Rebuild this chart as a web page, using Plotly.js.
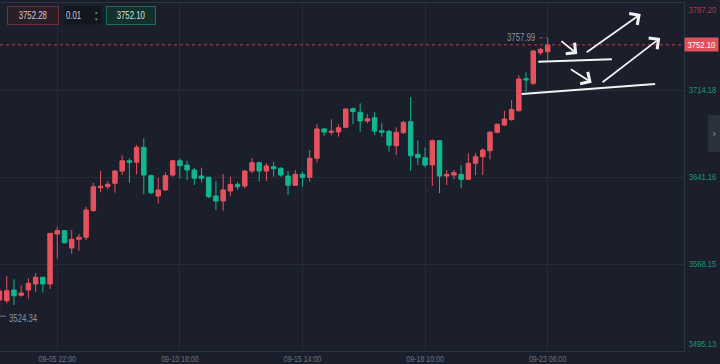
<!DOCTYPE html>
<html>
<head>
<meta charset="utf-8">
<script src="https://cdn.plot.ly/plotly-3.0.1.min.js"></script>
<style>html,body{margin:0;padding:0;background:#1a1f2b;}#chart{width:720px;height:364px;}</style>
</head>
<body>
<div id="chart"></div>
<script>
// ---- data ----
var openP = [3537.9,3537.3,3546.3,3541.9,3546.3,3551.4,3557.0,3551.4,3593.3,3596.1,
 3581.6,3588.9,3590.6,3612.9,3632.2,3633.0,3635.9,3646.2,3654.8,3653.5,
 3666.1,3642.3,3625.2,3630.3,3642.8,3654.8,3651.2,3647.0,3642.0,3640.9,
 3625.2,3621.0,3629.4,3635.0,3633.6,3646.2,3653.2,3646.2,3649.8,3648.5,
 3642.0,3634.2,3643.4,3640.9,3656.9,3681.5,3678.7,3678.9,3682.9,3698.5,
 3695.5,3688.2,3690.9,3680.0,3679.5,3667.4,3678.4,3687.6,3660.2,3657.4,
 3651.2,3671.6,3642.0,3642.8,3643.4,3639.2,3652.7,3658.2,3663.2,3678.7,
 3684.8,3689.4,3696.8,3723.7,3719.8,3745.5,3746.3];
var highP = [3548.0,3558.1,3555.3,3550.3,3556.1,3560.3,3557.0,3594.0,3599.5,3596.6,
 3596.7,3593.3,3616.2,3636.4,3646.2,3637.6,3647.0,3659.4,3656.9,3668.0,
 3673.6,3643.4,3640.6,3645.1,3655.4,3656.9,3654.8,3649.0,3649.0,3641.4,
 3637.8,3643.7,3641.4,3637.2,3647.0,3656.9,3654.0,3652.7,3654.0,3649.3,
 3646.2,3647.0,3645.6,3663.8,3685.4,3682.5,3689.6,3685.4,3698.8,3699.3,
 3703.0,3693.8,3695.5,3686.2,3680.6,3682.9,3688.4,3708.1,3671.6,3666.1,
 3672.8,3672.2,3647.0,3647.0,3651.2,3661.1,3661.1,3665.3,3679.8,3686.2,
 3696.8,3705.8,3726.8,3729.0,3747.8,3749.7,3757.99];
var lowP = [3524.34,3535.2,3533.7,3540.7,3539.0,3544.6,3544.1,3547.2,3572.6,3585.5,
 3576.8,3579.1,3588.3,3612.0,3628.3,3630.8,3628.0,3642.8,3636.4,3643.4,
 3626.6,3626.6,3619.1,3629.4,3641.4,3640.1,3638.7,3634.5,3636.7,3623.3,
 3613.5,3612.9,3625.5,3630.3,3631.7,3644.3,3637.2,3637.8,3641.4,3641.4,
 3626.1,3633.6,3633.0,3637.2,3653.5,3675.8,3676.2,3675.0,3682.0,3685.4,
 3679.2,3686.2,3676.4,3675.0,3662.4,3659.6,3677.3,3646.2,3651.2,3649.3,
 3633.6,3627.5,3634.5,3639.2,3631.7,3638.7,3642.8,3642.8,3656.0,3677.8,
 3684.0,3688.2,3696.0,3712.8,3718.4,3743.6,3738.8];
var closeP = [3545.5,3545.7,3541.5,3543.8,3552.0,3557.0,3551.4,3593.9,3596.1,3586.0,
 3588.9,3590.6,3613.5,3633.0,3633.4,3635.0,3646.2,3654.8,3653.5,3666.1,
 3642.8,3628.0,3630.3,3642.3,3654.8,3650.7,3647.0,3640.1,3640.1,3624.6,
 3621.0,3630.3,3635.0,3633.0,3646.2,3653.2,3646.2,3650.4,3648.1,3642.8,
 3634.2,3643.4,3640.9,3656.9,3681.5,3678.9,3679.5,3682.5,3698.2,3696.0,
 3688.2,3690.1,3679.8,3678.7,3667.8,3678.7,3687.1,3659.0,3657.4,3651.2,
 3671.6,3642.0,3643.4,3644.8,3639.2,3652.7,3658.2,3663.8,3678.7,3685.4,
 3689.8,3697.8,3723.4,3722.6,3746.9,3748.3,3752.10];
var tickIdx = [8, 25, 42, 59, 76];
var tickLabels = ['09-05 22:00','09-10 18:00','09-15 14:00','09-18 10:00','09-23 06:00'];
var priceTicks = [3568.15, 3641.16, 3714.18];
var priceTop = 3787.20, priceBottom = 3495.13;
var widgetValues = ['3752.28', '0.01', '3752.10'];
// hand-drawn marks: [x-index, price] pairs
var drawnLines = [[[74.7,3737.9],[84.9,3740.0]], [[72.4,3710.8],[90.9,3719.2]]];
var drawnArrows = [[[77.7,3756.2],[80.1,3744.4]], [[79.0,3732.4],[82.1,3720.3]],
                   [[81.2,3745.0],[88.9,3778.0]], [[83.4,3719.8],[91.6,3757.8]]];

// ---- styling ----
var RED = '#e5525d', GREEN = '#14b591', BG = '#1a1f2b', GRID = '#252b38', LINE = '#2c3341';
var FONT = 'Liberation Sans, Arial, sans-serif';
var AX = 8.5;
var xs = openP.map(function(_, i){ return i; });
var last = xs.length - 1;
var lastClose = closeP[last];
var hi = Math.max.apply(null, highP), hiI = highP.indexOf(hi);
var lo = Math.min.apply(null, lowP), loI = lowP.indexOf(lo);

var trace = {
  type: 'candlestick', x: xs, open: openP, high: highP, low: lowP, close: closeP,
  increasing: {line: {color: RED, width: 1}, fillcolor: RED},
  decreasing: {line: {color: GREEN, width: 1}, fillcolor: GREEN},
  whiskerwidth: 0, hoverinfo: 'skip', showlegend: false
};

var plotW = 684, plotTop = 3, plotH = 348;
function paperX(px){ return px / plotW; }
function paperY(pyy){ return 1 - (pyy - plotTop) / plotH; }

var shapes = [
  {type:'line', xref:'paper', yref:'y', x0:0, x1:1, y0:lastClose, y1:lastClose,
   line:{color:'#b8404c', width:1, dash:'dot'}},
  {type:'line', xref:'x', yref:'y', x0:hiI-1.1, x1:hiI-0.1, y0:hi, y1:hi,
   line:{color:'#6f7581', width:1, dash:'dot'}},
  {type:'line', xref:'x', yref:'y', x0:loI+0.1, x1:loI+0.9, y0:lo, y1:lo,
   line:{color:'#7a808c', width:1}},
  {type:'rect', xref:'paper', yref:'paper', x0:paperX(708), x1:paperX(722),
   y0:paperY(152), y1:paperY(115), fillcolor:'#2a303c', line:{width:0}, layer:'below'}
];
drawnLines.forEach(function(l){
  shapes.push({type:'line', xref:'x', yref:'y', x0:l[0][0], y0:l[0][1], x1:l[1][0], y1:l[1][1],
    line:{color:'#f2f2f2', width:2}});
});

var annotations = [];
drawnArrows.forEach(function(a){
  annotations.push({xref:'x', yref:'y', axref:'x', ayref:'y', x:a[1][0], y:a[1][1],
    ax:a[0][0], ay:a[0][1], text:'', showarrow:true, arrowhead:4, arrowsize:1.5,
    arrowwidth:1.8, arrowcolor:'#f2f2f2', standoff:0, startstandoff:0});
});
annotations.push({xref:'paper', yref:'y', x:1, y:priceTop, xanchor:'left', yanchor:'top',
  xshift:1, text:priceTop.toFixed(2), showarrow:false, font:{family:FONT, size:AX, color:'#a83d49'}});
annotations.push({xref:'paper', yref:'y', x:1, y:priceBottom, xanchor:'left', yanchor:'bottom',
  xshift:1, text:priceBottom.toFixed(2), showarrow:false, font:{family:FONT, size:AX, color:'#1a9680'}});
annotations.push({xref:'paper', yref:'y', x:1, y:lastClose, xanchor:'left', yanchor:'middle',
  xshift:0, text:lastClose.toFixed(2), showarrow:false, bgcolor:'#e0505c', borderpad:1,
  width:31, height:11, font:{family:FONT, size:AX, color:'#ffffff'}});
annotations.push({xref:'x', yref:'y', x:hiI-0.75, y:hi, xanchor:'right', yanchor:'middle',
  text:hi.toFixed(2), showarrow:false, font:{family:FONT, size:10, color:'#8b919c'}});
annotations.push({xref:'x', yref:'y', x:loI+0.45, y:lo, xanchor:'left', yanchor:'middle', yshift:-2,
  text:lo.toFixed(2), showarrow:false, font:{family:FONT, size:10, color:'#8b919c'}});
annotations.push({xref:'paper', yref:'paper', x:paperX(7), y:paperY(6), xanchor:'left', yanchor:'top',
  text:widgetValues[0], showarrow:false, width:48, height:15, borderpad:1, borderwidth:1,
  bordercolor:'#6e2f39', bgcolor:'#2a1e27', font:{family:FONT, size:10, color:'#d6c9cd'}});
annotations.push({xref:'paper', yref:'paper', x:paperX(64), y:paperY(6), xanchor:'left', yanchor:'top',
  text:widgetValues[1], showarrow:false, width:34, height:15, borderpad:1, borderwidth:1, align:'left',
  bordercolor:'#151a23', bgcolor:'#12161f', font:{family:FONT, size:10, color:'#cdd1d7'}});
annotations.push({xref:'paper', yref:'paper', x:paperX(96), y:paperY(15.5), xanchor:'center', yanchor:'middle',
  text:'▴<br>▾', showarrow:false, font:{family:'DejaVu Sans', size:5, color:'#7d8590'}});
annotations.push({xref:'paper', yref:'paper', x:paperX(106), y:paperY(6), xanchor:'left', yanchor:'top',
  text:widgetValues[2], showarrow:false, width:46, height:15, borderpad:1, borderwidth:1,
  bordercolor:'#1e6c5e', bgcolor:'#13302d', font:{family:FONT, size:10, color:'#d0e0dc'}});
annotations.push({xref:'paper', yref:'paper', x:paperX(714), y:paperY(133), xanchor:'center', yanchor:'middle',
  text:'›', showarrow:false, font:{family:'DejaVu Sans', size:11, color:'#8a909a'}});

var layout = {
  width: 720, height: 364,
  paper_bgcolor: BG, plot_bgcolor: BG,
  margin: {l:0, r:36, t:3, b:13},
  showlegend: false,
  boxgap: 0.38, boxgroupgap: 0,
  xaxis: {type:'linear', range:[0.06, 94.9], tickmode:'array', tickvals:tickIdx, ticktext:tickLabels,
    showgrid:true, gridcolor:GRID, gridwidth:1, zeroline:false, showline:true, linecolor:LINE, mirror:true,
    ticks:'', ticklabelstandoff:-1, tickfont:{family:FONT, size:9, color:'#6b7280'}, rangeslider:{visible:false}, fixedrange:true},
  yaxis: {side:'right', range:[priceBottom, priceTop], tickmode:'array', tickvals:priceTicks,
    ticktext:priceTicks.map(function(v){return v.toFixed(2);}),
    showgrid:true, gridcolor:GRID, gridwidth:1, zeroline:false, showline:true, linecolor:LINE, mirror:true,
    ticks:'', ticklabelstandoff:2, tickfont:{family:FONT, size:AX, color:'#1a9680'}, fixedrange:true},
  shapes: shapes,
  annotations: annotations
};

Plotly.newPlot('chart', [trace], layout, {displayModeBar:false, staticPlot:true}).then(function(gd){
  // the reference uses a condensed face: squeeze glyphs horizontally
  var texts = gd.querySelectorAll('svg text');
  texts.forEach(function(t){
    var s = t.textContent || '';
    if (!/\d/.test(s) || t.querySelector('tspan.line')) return;
    var fs = parseFloat(t.style.fontSize) || 10;
    var f = fs < 9 ? 0.9 : 0.78;
    var len = t.getComputedTextLength();
    if (len > 0) {
      t.setAttribute('textLength', (len * f).toFixed(2));
      t.setAttribute('lengthAdjust', 'spacingAndGlyphs');
    }
  });
});
</script>
</body>
</html>
